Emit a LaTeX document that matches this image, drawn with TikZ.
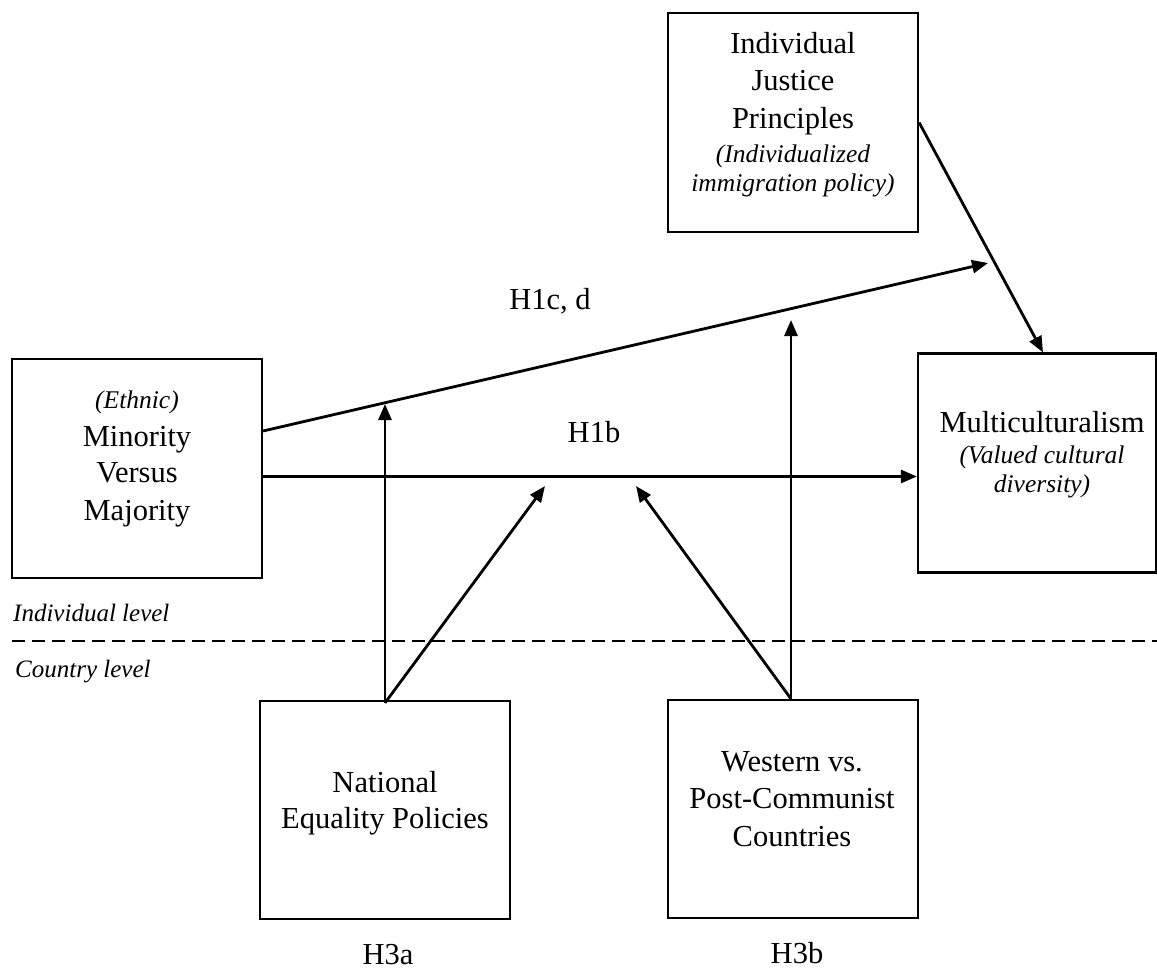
\documentclass[tikz,border=0pt]{standalone}
\usepackage{fontspec}
\setmainfont{Liberation Serif}
\usetikzlibrary{arrows.meta}
\newcommand{\itl}{\fontsize{25.5}{29}\selectfont\itshape}
\begin{document}
\begin{tikzpicture}[x=1pt,y=-1pt,
  box/.style={draw,line width=2.2pt,rectangle,inner sep=0pt,minimum width=250pt,minimum height=219pt},
  txt/.style={inner sep=0pt,anchor=base,align=center,font=\fontsize{30.5}{37.5}\selectfont},
  lvl/.style={inner sep=0pt,anchor=base west,font=\fontsize{25}{29}\selectfont\itshape},
  arr/.style={line width=2.8pt,-{Triangle[length=16pt,width=13pt]}}]
\useasboundingbox (0,0) rectangle (1157,970);
% boxes
\node[box] (ijp) at (793,122.5) {};
\node[box] (min) at (137,468.5) {};
\node[box,minimum width=238pt] (mul) at (1037,463) {};
\node[box,minimum height=218pt] (nep) at (385,810) {};
\node[box,minimum height=218pt] (wes) at (793,809) {};
% box texts (anchored at the baseline of the last line)
\node[txt] (ijpt) at (793,191) {Individual\\Justice\\Principles\\[-3.5pt]{\itl (Individualized}\\[-8.5pt]{\itl immigration policy)}};
\node[txt] (mint) at (137,520) {{\itl (Ethnic)}\\[0.5pt]Minority\\[-1.5pt]Versus\\Majority};
\node[txt] (mult) at (1042,492) {Multiculturalism\\[-6.5pt]{\itl (Valued cultural}\\[-8.5pt]{\itl diversity)}};
\node[txt] (nept) at (385,828) {National\\[-1.5pt]Equality Policies};
\node[txt] (west) at (792,846) {Western vs.\\Post-Communist\\Countries};
% labels
\node[txt] (h1cd) at (550,309) {H1c, d};
\node[txt] (h1b) at (594,442) {H1b};
\node[txt] (h3a) at (388,964) {H3a};
\node[txt] (h3b) at (797,963) {H3b};
\node[lvl] (ind) at (13,621) {Individual level};
\node[lvl] (cou) at (15,677) {Country level};
% level divider
\coordinate (dl) at (12,641);
\coordinate (dr) at (1157,641);
\draw[line width=2.8pt,dash pattern=on 13pt off 7pt] (dl) -- (dr);
% arrow end points
\coordinate (t1) at (988,263);
\coordinate (t3) at (385,404);
\coordinate (t4) at (545,486);
\coordinate (t5) at (791,320);
\coordinate (t6) at (636,486);
% arrows
\draw[arr] ([yshift=37.5pt]min.east) -- (t1);
\draw[arr] (ijp.east) -- ([xshift=6pt]mul.north);
\draw[arr] ([yshift=-8pt]min.east) -- ([yshift=-8pt]min.east -| mul.west);
\draw[arr] ([yshift=-3pt]nep.north) -- (t3);
\draw[arr] ([yshift=-3pt]nep.north) -- (t4);
\draw[arr] ([xshift=-2pt]wes.north) -- (t5);
\draw[arr] ([xshift=-2pt]wes.north) -- (t6);
\end{tikzpicture}
\end{document}
